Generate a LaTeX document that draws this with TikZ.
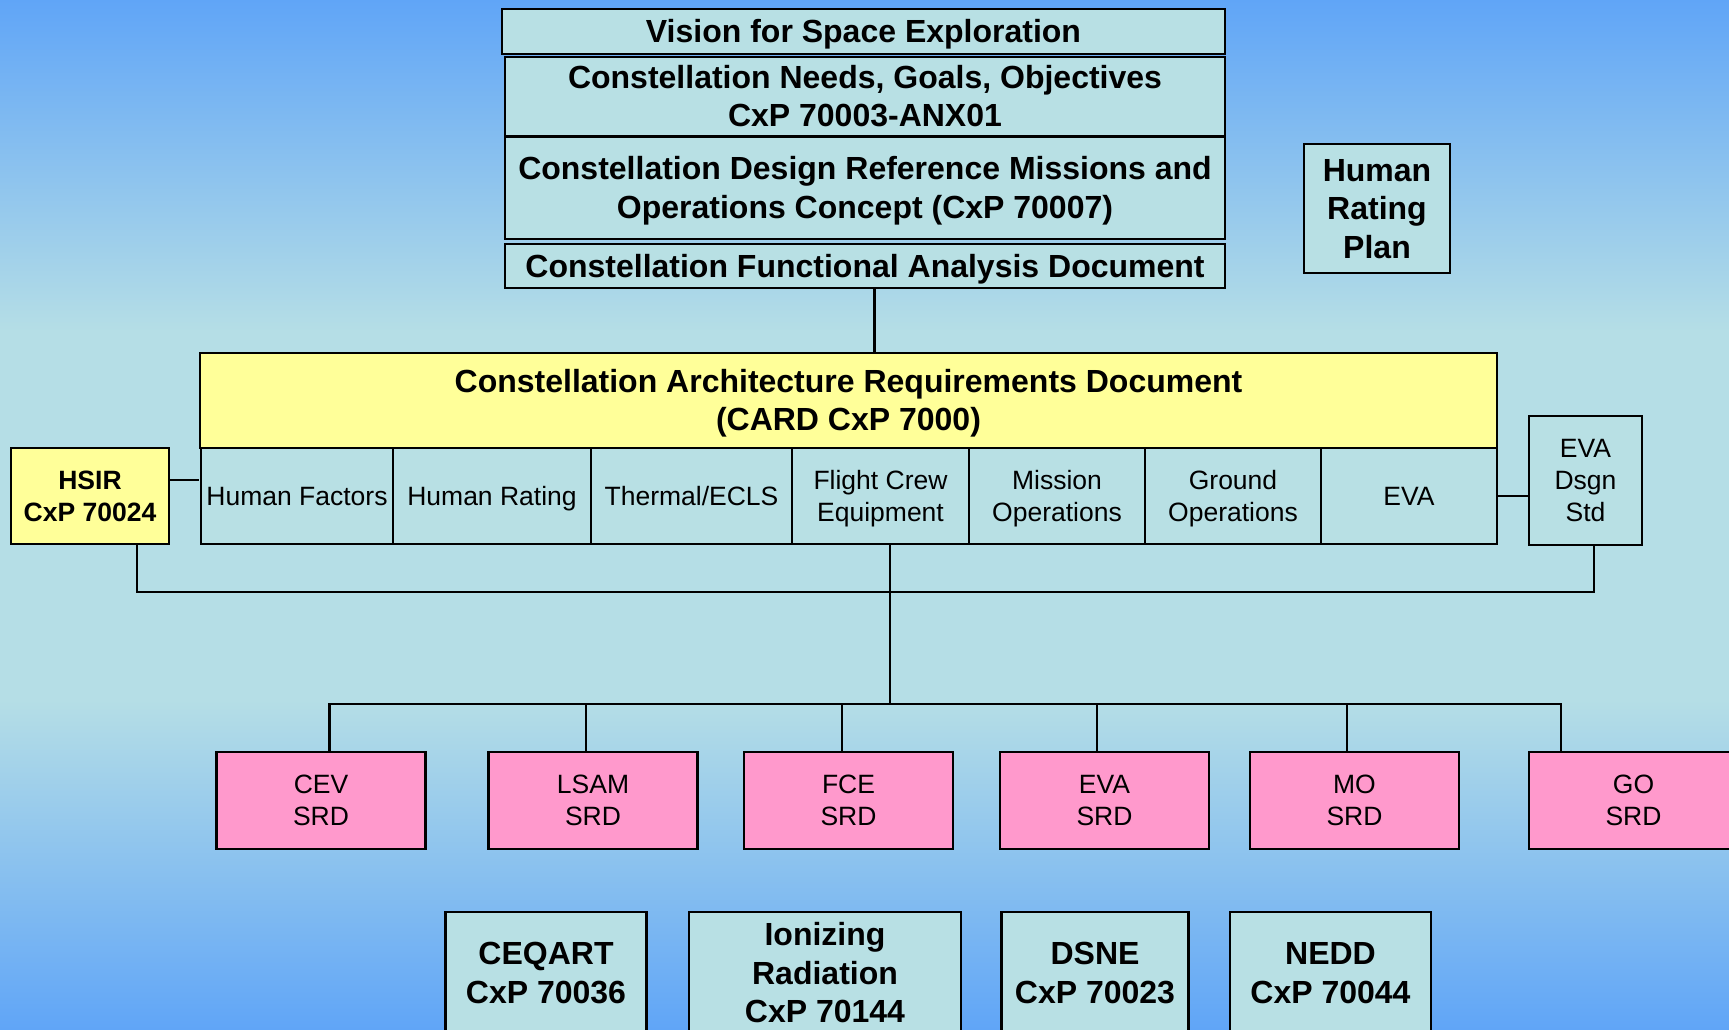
\documentclass[tikz,border=0pt]{standalone}
\usepackage{fontspec}
\setmainfont{Liberation Sans}
\newcommand*{\picW}{1729}
\newcommand*{\picH}{1029}
% first and last line as tall as the font's ascent and descent
\newcommand*{\lineStrut}{\rule[-0.212em]{0pt}{1.117em}}
\newcommand{\boxText}[1]{\lineStrut#1\lineStrut}
\definecolor{skyBlue}{RGB}{96,165,247}
\definecolor{skyPale}{RGB}{181,222,230}
\definecolor{docCyan}{RGB}{184,224,228}
\definecolor{cardYellow}{RGB}{255,255,153}
\definecolor{srdPink}{RGB}{255,153,204}

\begin{document}
\begin{tikzpicture}[x=1pt,y=-1pt,
    doc/.style={draw=black,line width=2.6pt,fill=docCyan,align=center,inner sep=2pt},
    bigdoc/.style={doc,font=\fontsize{32}{38.5}\selectfont\bfseries},
    smalldoc/.style={doc,font=\fontsize{26.5}{32}\selectfont},
    srd/.style={smalldoc,fill=srdPink,minimum width=209,minimum height=97},
    wire/.style={draw=black,line width=2.6pt}]
        % sky
        \useasboundingbox (0,0) rectangle (\picW,\picH);
        \fill[top color=skyBlue,bottom color=skyPale] (0,0) rectangle (\picW,331);
        \fill[skyPale] (0,330) rectangle (\picW,701);
        \fill[top color=skyPale,bottom color=skyBlue] (0,700) rectangle (\picW,\picH);

        % top stack
        \node[bigdoc,minimum width=723,minimum height=45] (vse) at (863.5,31.5) {\boxText{Vision for Space Exploration}};
        \node[bigdoc,minimum width=720,minimum height=79] (ngo) at (865,96.5) {\boxText{Constellation Needs, Goals, Objectives\\CxP 70003-ANX01}};
        \node[bigdoc,minimum width=720,minimum height=102] (drm) at (865,188) {\boxText{Constellation Design Reference Missions and\\Operations Concept (CxP 70007)}};
        \node[bigdoc,minimum width=720,minimum height=44] (fad) at (865,266) {\boxText{Constellation Functional Analysis Document}};
        \node[bigdoc,minimum width=146,minimum height=129] (hrp) at (1377,208.5) {\boxText{Human\\Rating\\Plan}};

        % CARD and its disciplines
        \node[bigdoc,fill=cardYellow,minimum width=1297,minimum height=95] (card) at (848.5,400.5) {\boxText{Constellation Architecture Requirements Document\\(CARD CxP 7000)}};
        \foreach \l/\r/\n/\t in {201/393/hf/Human Factors, 393/591/hr/Human Rating, 591/792/tec/{Thermal/ECLS}, 792/969/fce/{Flight Crew\\Equipment}, 969/1145/mo/{Mission\\Operations}, 1145/1321/go/{Ground\\Operations}, 1321/1497/eva/EVA} {
            \node[smalldoc,minimum width=\r-\l,minimum height=96] (\n) at ({(\l+\r)/2},496) {\boxText{\t}};
        }
        \node[doc,fill=cardYellow,font=\fontsize{26.5}{32}\selectfont\bfseries,minimum width=158,minimum height=96] (hsir) at (90,496) {\boxText{HSIR\\CxP 70024}};
        \node[smalldoc,minimum width=113,minimum height=129] (evaStd) at (1585.5,480.5) {\boxText{EVA\\Dsgn\\Std}};

        \draw[wire] ([xshift=9.5pt]fad.south) -- ([xshift=9.5pt]fad.south |- card.north);
        \draw[wire] ([yshift=16pt]hsir.east) -- ([yshift=16pt]hsir.east -| card.west);
        \draw[wire] (eva.east) -- (eva.east -| evaStd.west);

        % buses
        \coordinate (upBus) at (890,592);
        \coordinate (lowBus) at (890,704);
        \draw[wire] ([xshift=47pt]hsir.south) |- (upBus) -| ([xshift=8.5pt]evaStd.south);
        \draw[wire] ([xshift=9.5pt]fce.south) -- (lowBus);

        % SRDs
        \foreach \c/\d/\n/\t in {321/8.5/cevSrd/CEV, 593/-7/lsamSrd/LSAM, 848.5/-6.5/fceSrd/FCE, 1104.5/-7.5/evaSrd/EVA, 1354.5/-7.5/moSrd/MO, 1633.5/-72.5/goSrd/GO} {
            \node[srd] (\n) at (\c,800.5) {\boxText{\t\\SRD}};
            \draw[wire] (lowBus) -| ([xshift=\d pt]\n.north);
        }

        % supporting documents
        \foreach \c/\w/\n/\t in {546/201/ceqart/{CEQART\\CxP 70036}, 825/272/ionRad/{Ionizing\\Radiation\\CxP 70144}, 1095/186.5/dsne/{DSNE\\CxP 70023}, 1330.5/201/nedd/{NEDD\\CxP 70044}} {
            \node[bigdoc,minimum width=\w,minimum height=122] (\n) at (\c,973) {\boxText{\t}};
        }
    \end{tikzpicture}
\end{document}
